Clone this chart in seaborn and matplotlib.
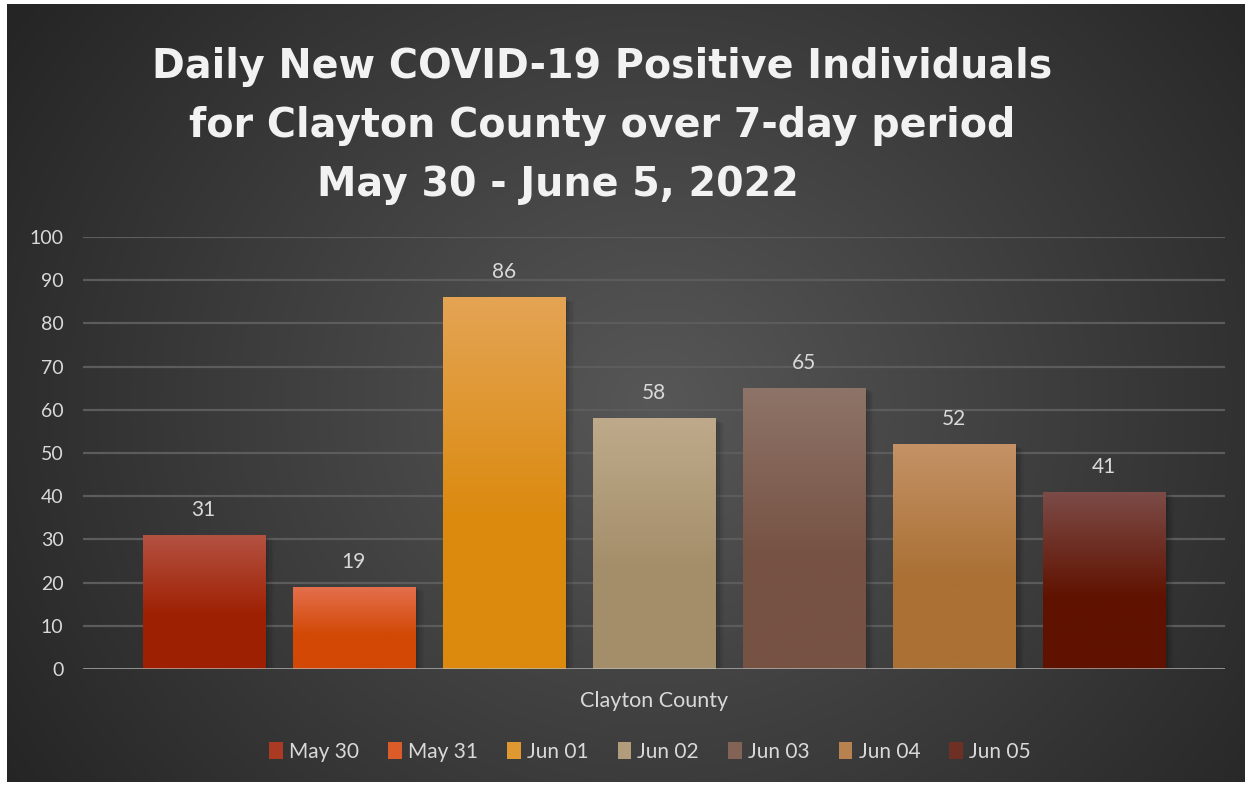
import numpy as np
import pandas as pd
import matplotlib
matplotlib.use("Agg")
import matplotlib.pyplot as plt
from matplotlib.patches import Patch
from matplotlib.colors import to_rgb
import seaborn as sns

# ---- data ----
county = "Clayton County"
dates = ["May 30", "May 31", "Jun 01", "Jun 02", "Jun 03", "Jun 04", "Jun 05"]
cases = [31, 19, 86, 58, 65, 52, 41]
title_lines = ["Daily New COVID-19 Positive Individuals",
               "for Clayton County over 7-day period",
               "May 30 - June 5, 2022"]
yticks = [0, 10, 20, 30, 40, 50, 60, 70, 80, 90, 100]

# ---- styles ----
top_colors = ["#b45242", "#e4704e", "#e4a454", "#beaa8a", "#8e7468", "#c49266", "#7c4c48"]
bot_colors = ["#9e2002", "#d24804", "#db8a0e", "#a48e6a", "#765244", "#aa7034", "#601200"]
mid_colors = ["#aa3a22", "#db5c28", "#e09830", "#b19c7c", "#826356", "#b78250", "#6e3024"]

df = pd.DataFrame({"county": [county] * len(dates), "date": dates, "cases": cases})

sns.set_theme(style="dark")
fontfam = ["Lato", "DejaVu Sans"]
plt.rcParams["font.family"] = fontfam

W, H = 1253, 786
fig = plt.figure(figsize=(W / 100, H / 100), dpi=100, facecolor="white")

# background radial gradient
bg = fig.add_axes([7 / W, 4 / H, 1238 / W, 778 / H])
bg.set_axis_off()
yy, xx = np.mgrid[0:778, 0:1238]
cx, cy = 650, 400
r = np.sqrt(((xx - cx) / 1.0) ** 2 + ((yy - cy) / 0.9) ** 2)
t = np.clip(r / 760, 0, 1)
c = 0x57 - (0x57 - 0x26) * t
img = np.dstack([c, c, c]) / 255.0
bg.imshow(img, aspect="auto", extent=[0, 1, 0, 1], origin="upper")
bg.set_xlim(0, 1)
bg.set_ylim(0, 1)

ax = fig.add_axes([83 / W, (H - 669) / H, (1225 - 83) / W, (669 - 237) / H])
ax.set_facecolor("none")

sns.barplot(data=df, x="county", y="cases", hue="date", hue_order=dates,
            palette=mid_colors, width=0.92, gap=0.187, legend=False,
            saturation=1, ax=ax, zorder=3)

ax.set_ylim(0, 100)
ax.set_xlim(-0.5, 0.5)
ax.set_yticks(yticks)
ax.set_yticklabels([str(v) for v in yticks], color="#d9d9d9", fontsize=14)
ax.tick_params(axis="y", length=0, pad=14)
ax.tick_params(axis="x", length=0)
ax.set_xticks([])
ax.set_xlabel(county, color="#d9d9d9", fontsize=15.5, labelpad=16)
ax.set_ylabel("")
for s in ax.spines.values():
    s.set_visible(False)
ax.grid(False)
for v in yticks[1:]:
    ax.axhline(v, color="#5c5c5c", lw=1.6, zorder=1)

# gradient fills + shadows + labels
for i, cont in enumerate(ax.containers):
    bar = cont[0]
    x0, y0 = bar.get_x(), bar.get_y()
    w, h = bar.get_width(), bar.get_height()
    for k, a in enumerate([0.10, 0.08, 0.06, 0.04]):
        ax.add_patch(plt.Rectangle((x0 + 0.002 * (k + 1), y0), w, h - 0.25 * (k + 1),
                                   facecolor="black", alpha=a, lw=0, zorder=2))
    top = np.array(to_rgb(top_colors[i]))
    bot = np.array(to_rgb(bot_colors[i]))
    n = 200
    frac = np.linspace(0, 1, n)[:, None]
    grad = top + (bot - top) * np.clip(frac / 0.6, 0, 1)
    gimg = np.repeat(grad[:, None, :], 2, axis=1)
    im = ax.imshow(gimg, extent=[x0, x0 + w, y0, y0 + h], origin="upper",
                   aspect="auto", zorder=4)
    im.set_clip_path(bar)
    bar.set_edgecolor("none")
    ax.text(x0 + w / 2, y0 + h + 5.8, str(cases[i]), ha="center", va="center",
            color="#d9d9d9", fontsize=15, zorder=6)

ax.set_xlim(-0.5, 0.5)
ax.set_ylim(0, 100)
ax.axhline(0, color="#bdbdbd", lw=2, alpha=0.75, zorder=5)

# title
title_pos = [(602, 67), (602, 126), (558, 185)]
for line, (px, py) in zip(title_lines, title_pos):
    fig.text(px / W, 1 - py / H, line, ha="center", va="center", color="#f2f2f2",
             fontsize=28.5, fontweight="bold", family=["DejaVu Sans"])

# legend
handles = [Patch(facecolor=mid_colors[i], edgecolor="none", label=d) for i, d in enumerate(dates)]
leg = fig.legend(handles=handles, loc="center", bbox_to_anchor=(650 / W, 1 - 752 / H),
                 ncol=7, frameon=False, fontsize=15, handlelength=0.65, handleheight=0.85,
                 handletextpad=0.3, columnspacing=1.4, labelcolor="#d9d9d9")

fig.savefig("out.png", dpi=100, facecolor="white")
